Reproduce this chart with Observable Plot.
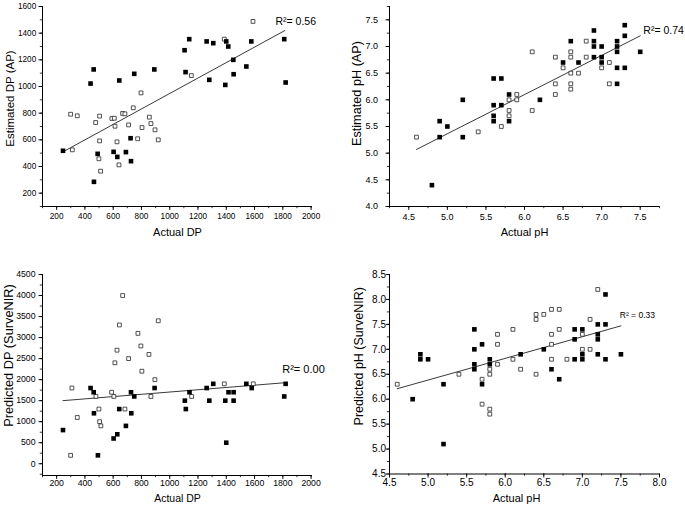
<!DOCTYPE html>
<html><head><meta charset="utf-8">
<script src="https://cdn.jsdelivr.net/npm/d3@7"></script>
<script src="https://cdn.jsdelivr.net/npm/@observablehq/plot@0.6"></script>
<style>
body{margin:0;background:#fff;}
#wrap{position:relative;width:685px;height:508px;overflow:hidden;background:#fff;}
.panel{position:absolute;}
.panel svg{overflow:visible;}
</style></head><body><div id="wrap"></div>
<script>
// ---------- Panel A: Actual DP vs Estimated DP (AP) ----------
const dpApFilledX = [245, 440, 462, 464, 490, 603, 629, 643, 690, 723, 726, 749, 891, 1105, 1112, 1138, 1261, 1280, 1308, 1393, 1400, 1414, 1450, 1452, 1542, 1577, 1810, 1820];
const dpApFilledY = [518, 1022, 1128, 285, 495, 510, 472, 1045, 508, 612, 440, 1095, 1128, 1272, 1108, 1355, 1338, 1050, 1325, 1012, 1338, 1300, 1200, 1092, 1150, 1338, 1355, 1030];
const dpApOpenX = [299, 346, 311, 476, 504, 504, 499, 511, 591, 608, 613, 627, 641, 667, 683, 709, 742, 773, 797, 804, 856, 867, 896, 919, 1153, 1386, 1589];
const dpApOpenY = [792, 780, 525, 730, 778, 592, 458, 365, 760, 762, 702, 585, 412, 798, 795, 712, 840, 608, 952, 692, 770, 722, 675, 600, 1082, 1355, 1488];
const dpApFitX = [245, 1815];
const dpApFitY = [510, 1420];

// ---------- Panel B: Actual pH vs Estimated pH (AP) ----------
const phApFilledX = [4.8, 4.9, 4.9, 5.0, 5.2, 5.2, 5.6, 5.7, 5.6, 5.7, 5.6, 5.6, 5.8, 5.8, 6.2, 6.5, 6.6, 6.7, 6.9, 6.9, 6.9, 6.9, 7.0, 7.0, 7.0, 7.2, 7.2, 7.2, 7.2, 7.2, 7.3, 7.3, 7.3, 7.5];
const phApFilledY = [4.4, 5.6, 5.3, 5.5, 6.0, 5.3, 6.4, 6.4, 5.9, 5.9, 5.7, 5.6, 6.1, 5.6, 6.0, 6.7, 7.1, 6.7, 7.3, 7.1, 7.0, 6.8, 7.0, 6.8, 6.7, 7.1, 7.0, 6.9, 6.6, 6.3, 7.4, 7.2, 6.6, 6.9];
const phApOpenX = [4.6, 5.4, 5.7, 5.8, 5.8, 5.8, 5.9, 5.9, 6.1, 6.1, 6.4, 6.4, 6.4, 6.5, 6.6, 6.6, 6.6, 6.6, 6.6, 6.7, 6.8, 6.8, 7.0, 7.1, 7.1];
const phApOpenY = [5.3, 5.4, 5.5, 6.0, 5.8, 5.7, 6.1, 6.0, 6.9, 5.8, 6.8, 6.3, 6.1, 6.6, 6.9, 6.8, 6.5, 6.3, 6.2, 6.5, 7.1, 6.8, 6.6, 6.7, 6.3];
const phApFitX = [4.6, 7.5];
const phApFitY = [5.07, 7.2];

// ---------- Panel C: Actual DP vs Predicted DP (SurveNIR) ----------
const dpNirFilledX = [245, 440, 462, 464, 492, 603, 629, 643, 690, 726, 728, 749, 893, 1107, 1114, 1140, 1261, 1280, 1308, 1393, 1400, 1416, 1452, 1452, 1542, 1580, 1810, 1820];
const dpNirFilledY = [800, 1800, 1700, 1200, 200, 600, 700, 1300, 900, 1700, 1200, 1600, 1800, 1500, 1300, 1700, 1800, 1500, 1900, 1500, 500, 1700, 1700, 1500, 1900, 1800, 1600, 1900];
const dpNirOpenX = [308, 346, 299, 478, 499, 504, 513, 589, 605, 612, 627, 644, 667, 683, 709, 775, 796, 803, 853, 867, 895, 919, 1155, 1386, 1591];
const dpNirOpenY = [1800, 1100, 200, 1600, 1300, 1000, 900, 1700, 1600, 2400, 2700, 3300, 4000, 1300, 2500, 3100, 2800, 2200, 2600, 1600, 2000, 3400, 1600, 1900, 1900];
const dpNirFitX = [245, 1810];
const dpNirFitY = [1500, 1925];

// ---------- Panel D: Actual pH vs Predicted pH (SurveNIR) ----------
const phNirFilledX = [4.8, 4.9, 4.9, 5.0, 5.2, 5.2, 5.6, 5.6, 5.6, 5.6, 5.7, 5.7, 5.8, 5.8, 6.2, 6.5, 6.6, 6.7, 6.9, 6.9, 6.9, 7.0, 7.0, 7.0, 7.2, 7.2, 7.2, 7.2, 7.3, 7.3, 7.3, 7.5];
const phNirFilledY = [6.0, 6.9, 6.8, 6.8, 6.3, 5.1, 7.4, 7.0, 6.7, 6.6, 7.1, 6.3, 6.8, 6.7, 6.9, 7.0, 6.6, 6.4, 7.4, 7.2, 6.8, 7.4, 6.9, 6.8, 7.5, 7.3, 7.2, 6.9, 8.1, 7.5, 6.8, 6.9];
const phNirOpenX = [4.6, 5.4, 5.7, 5.7, 5.8, 5.8, 5.8, 5.8, 5.9, 5.9, 5.9, 6.1, 6.1, 6.2, 6.4, 6.4, 6.5, 6.6, 6.7, 6.6, 6.6, 6.6, 6.7, 6.4, 6.8, 7.0, 7.0, 7.1, 7.1, 7.2];
const phNirOpenY = [6.3, 6.5, 6.4, 5.9, 6.6, 6.5, 5.8, 5.7, 7.3, 7.1, 6.7, 7.4, 6.8, 6.6, 7.7, 7.6, 7.7, 7.8, 7.8, 7.3, 7.1, 6.8, 7.4, 6.5, 6.8, 7.3, 7.0, 7.0, 7.6, 8.2];
const phNirFitX = [4.6, 7.5];
const phNirFitY = [6.21, 7.47];

// ---------- Tick labels ----------
const dpXTicks = [200, 400, 600, 800, 1000, 1200, 1400, 1600, 1800, 2000];
const dpApYTicks = [200, 400, 600, 800, 1000, 1200, 1400, 1600];
const dpNirYTicks = [0, 500, 1000, 1500, 2000, 2500, 3000, 3500, 4000, 4500];
const phApXTicks = [4.5, 5.0, 5.5, 6.0, 6.5, 7.0, 7.5];
const phApYTicks = [4.0, 4.5, 5.0, 5.5, 6.0, 6.5, 7.0, 7.5];
const phNirXTicks = [4.5, 5.0, 5.5, 6.0, 6.5, 7.0, 7.5, 8.0];
const phNirYTicks = [4.5, 5.0, 5.5, 6.0, 6.5, 7.0, 7.5, 8.0, 8.5];

const r2Labels = ["R\u00B2= 0.56", "R\u00B2= 0.74", "R\u00B2= 0.00", "R\u00B2 = 0.33"];
const xTitles = ["Actual DP", "Actual pH", "Actual DP", "Actual pH"];
const yTitles = ["Estimated DP (AP)", "Estimated pH (AP)", "Predicted DP (SurveNIR)", "Predicted pH (SurveNIR)"];

const pts = (xs, ys) => xs.map((x, i) => ({x, y: ys[i]}));
const fmtInt = d3.format("d");
const fmt1 = d3.format(".1f");
const FONT = "'Liberation Sans', Arial, Helvetica, sans-serif";

function panel(c) {
  const xMinor = d3.range(c.xMinor[0], c.xMinor[1] + 1e-9, c.xMinor[2]);
  const yMinor = d3.range(c.yMinor[0], c.yMinor[1] + 1e-9, c.yMinor[2]);
  const plot = Plot.plot({
    width: c.width, height: c.height,
    marginLeft: c.m[3], marginRight: c.m[1], marginTop: c.m[0], marginBottom: c.m[2],
    x: {domain: c.xDomain, label: null},
    y: {domain: c.yDomain, label: null},
    style: {background: "transparent", fontFamily: FONT, color: "#000", overflow: "visible"},
    marks: [
      Plot.ruleY([c.yDomain[0]], {stroke: "#000", strokeWidth: 1}),
      Plot.ruleX([c.xDomain[0]], {stroke: "#000", strokeWidth: 1}),
      Plot.axisX({ticks: xMinor, tickSize: 2.2, tickFormat: () => "", label: null, strokeWidth: 0.8}),
      Plot.axisY({ticks: yMinor, tickSize: 2.2, tickFormat: () => "", label: null, strokeWidth: 0.8}),
      Plot.axisX({ticks: c.xTicks, tickSize: c.xTick[0], tickPadding: c.xTick[1], tickFormat: c.xFmt, label: null, fontSize: c.tickFont, strokeWidth: 0.9}),
      Plot.axisY({ticks: c.yTicks, tickSize: c.yTick[0], tickPadding: c.yTick[1], tickFormat: c.yFmt, label: null, fontSize: c.tickFont, strokeWidth: 0.9}),
      Plot.text([c.xTitle], {frameAnchor: "bottom", textAnchor: "middle", lineAnchor: "middle", dx: c.xTitlePos[0], dy: c.xTitlePos[1], fontSize: c.xTitleFont}),
      Plot.text([c.yTitle], {frameAnchor: "left", textAnchor: "middle", lineAnchor: "middle", rotate: -90, dx: c.yTitlePos[0], dy: c.yTitlePos[1], fontSize: c.yTitleFont}),
      Plot.line(pts(c.fitX, c.fitY), {x: "x", y: "y", stroke: "#222", strokeWidth: 0.9}),
      Plot.dot(pts(c.openX, c.openY), {x: "x", y: "y", symbol: "square", r: 2.15, fill: "#fff", stroke: "#333", strokeWidth: 0.85}),
      Plot.dot(pts(c.filledX, c.filledY), {x: "x", y: "y", symbol: "square", r: 2.6, fill: "#000", stroke: "none"}),
      Plot.text([c.r2], {x: () => c.r2Pos[0], y: () => c.r2Pos[1], textAnchor: "start", fontSize: c.r2Font})
    ]
  });
  const div = document.createElement("div");
  div.className = "panel";
  div.style.left = c.left + "px";
  div.style.top = c.top + "px";
  div.appendChild(plot);
  document.getElementById("wrap").appendChild(div);
}

panel({
  left: 0, top: 0, width: 342, height: 250, m: [6, 30, 44, 42],
  xDomain: [100, 2010], yDomain: [100, 1600],
  xTicks: dpXTicks, yTicks: dpApYTicks, xMinor: [100, 2000, 100], yMinor: [100, 1600, 100],
  xFmt: fmtInt, yFmt: fmtInt, tickFont: 8.2, xTick: [4, 3], yTick: [3.5, 2.8],
  xTitle: xTitles[0], yTitle: yTitles[0], xTitlePos: [0, 26], yTitlePos: [-32.5, -8],
  xTitleFont: 11, yTitleFont: 11.5,
  fitX: dpApFitX, fitY: dpApFitY, openX: dpApOpenX, openY: dpApOpenY, filledX: dpApFilledX, filledY: dpApFilledY,
  r2: r2Labels[0], r2Pos: [1748, 1487], r2Font: 10.5
});

panel({
  left: 340, top: 0, width: 345, height: 250, m: [6, 26, 44, 49],
  xDomain: [4.25, 7.75], yDomain: [4.0, 7.75],
  xTicks: phApXTicks, yTicks: phApYTicks, xMinor: [4.25, 7.75, 0.25], yMinor: [4.0, 7.75, 0.25],
  xFmt: fmt1, yFmt: fmt1, tickFont: 9, xTick: [4, 3], yTick: [3.5, 8],
  xTitle: xTitles[1], yTitle: yTitles[1], xTitlePos: [0, 26], yTitlePos: [-33, -13],
  xTitleFont: 11, yTitleFont: 12.7,
  fitX: phApFitX, fitY: phApFitY, openX: phApOpenX, openY: phApOpenY, filledX: phApFilledX, filledY: phApFilledY,
  r2: r2Labels[1], r2Pos: [7.54, 7.30], r2Font: 10.5
});

panel({
  left: 0, top: 250, width: 342, height: 258, m: [24, 30, 33, 42],
  xDomain: [100, 2010], yDomain: [-280, 4500],
  xTicks: dpXTicks, yTicks: dpNirYTicks, xMinor: [100, 2000, 100], yMinor: [-250, 4500, 250],
  xFmt: fmtInt, yFmt: fmtInt, tickFont: 8.7, xTick: [4, 0.5], yTick: [3.5, 3.5],
  xTitle: xTitles[2], yTitle: yTitles[2], xTitlePos: [0, 23.3], yTitlePos: [-33.7, -19.5],
  xTitleFont: 10.5, yTitleFont: 12.8,
  fitX: dpNirFitX, fitY: dpNirFitY, openX: dpNirOpenX, openY: dpNirOpenY, filledX: dpNirFilledX, filledY: dpNirFilledY,
  r2: r2Labels[2], r2Pos: [1796, 2234], r2Font: 11
});

panel({
  left: 340, top: 250, width: 345, height: 258, m: [24, 26, 34.5, 49],
  xDomain: [4.5, 8.0], yDomain: [4.5, 8.5],
  xTicks: phNirXTicks, yTicks: phNirYTicks, xMinor: [4.5, 8.0, 0.25], yMinor: [4.5, 8.5, 0.25],
  xFmt: fmt1, yFmt: fmt1, tickFont: 10, xTick: [4, 1.2], yTick: [3, 0.5],
  xTitle: xTitles[3], yTitle: yTitles[3], xTitlePos: [-8, 24.8], yTitlePos: [-31, -18],
  xTitleFont: 11, yTitleFont: 12.5,
  fitX: phNirFitX, fitY: phNirFitY, openX: phNirOpenX, openY: phNirOpenY, filledX: phNirFilledX, filledY: phNirFilledY,
  r2: r2Labels[3], r2Pos: [7.485, 7.68], r2Font: 8.5
});
</script></body></html>
